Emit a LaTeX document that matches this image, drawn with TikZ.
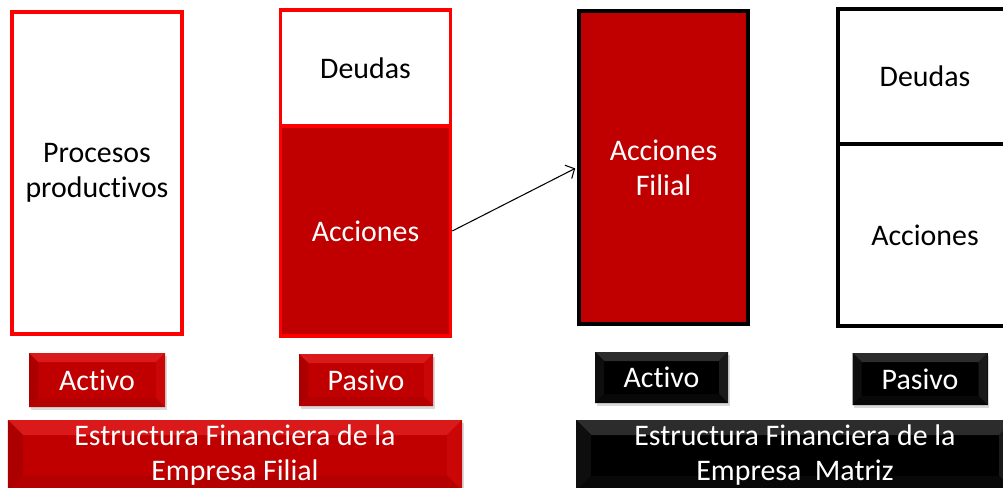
\documentclass[tikz,border=0pt]{standalone}
\usepackage{fontspec}
\setmainfont{Carlito}[Ligatures=NoCommon]
\usetikzlibrary{shadows,arrows.meta}
\definecolor{rojo}{HTML}{C00000}
\definecolor{rojoA}{HTML}{DA1A1A}
\definecolor{rojoI}{HTML}{AC0000}
\definecolor{rojoD}{HTML}{CA0606}
\definecolor{rojoB}{HTML}{B40000}
\definecolor{negA}{HTML}{2C2C2C}
\definecolor{negI}{HTML}{0E0E0E}
\definecolor{negD}{HTML}{1A1A1A}
\definecolor{negB}{HTML}{080808}
\tikzset{
	txt/.style={font=\fontsize{17}{19.9}\selectfont,align=center,inner sep=0pt},
	rbox/.style={txt,draw=red,line width=2pt},
	bbox/.style={txt,draw=black,line width=2.3pt},
	bevel/.style n args={5}{path picture={
		\fill[#2] (path picture bounding box.north west) -- (path picture bounding box.north east)
			-- ([shift={(-#1,-#1)}]path picture bounding box.north east) -- ([shift={(#1,-#1)}]path picture bounding box.north west) -- cycle;
		\fill[#3] (path picture bounding box.north west) -- (path picture bounding box.south west)
			-- ([shift={(#1,#1)}]path picture bounding box.south west) -- ([shift={(#1,-#1)}]path picture bounding box.north west) -- cycle;
		\fill[#4] (path picture bounding box.north east) -- (path picture bounding box.south east)
			-- ([shift={(-#1,#1)}]path picture bounding box.south east) -- ([shift={(-#1,-#1)}]path picture bounding box.north east) -- cycle;
		\fill[#5] (path picture bounding box.south west) -- (path picture bounding box.south east)
			-- ([shift={(-#1,#1)}]path picture bounding box.south east) -- ([shift={(#1,#1)}]path picture bounding box.south west) -- cycle;
	}},
	rbtn/.style={txt,text=white,fill=rojo,drop shadow={shadow xshift=0.03cm,shadow yshift=-0.05cm,opacity=0.3},bevel={#1}{rojoA}{rojoI}{rojoD}{rojoB}},
	bbtn/.style={txt,text=white,fill=black,drop shadow={shadow xshift=0.03cm,shadow yshift=-0.05cm,opacity=0.3},bevel={#1}{negA}{negI}{negD}{negB}}
}
\begin{document}
\begin{tikzpicture}[line width=0.6pt,>={Straight Barb[length=0.14cm,width=0.3cm]}]
	\useasboundingbox (0,0) rectangle (20.06,-9.76);
	\clip (0,0) rectangle (20.06,-9.76);
	% empresa filial
	\node[rbox,minimum width=3.4cm,minimum height=6.44cm] (proc) at (1.94,-3.46) {Procesos\\productivos};
	\node[rbox,minimum width=3.4cm,minimum height=2.32cm] (deu1) at (7.31,-1.36) {Deudas};
	\node[rbox,fill=rojo,text=white,minimum width=3.4cm,minimum height=4.2cm] (acc1) at (7.31,-4.62) {Acciones};
	% empresa matriz
	\node[bbox,fill=rojo,text=white,minimum width=3.38cm,minimum height=6.26cm] (fil) at (13.27,-3.35) {Acciones\\Filial};
	\node[bbox,minimum width=3.48cm,minimum height=2.7cm] (deu2) at (18.5,-1.53) {Deudas};
	\node[bbox,minimum width=3.48cm,minimum height=3.64cm] (acc2) at (18.5,-4.7) {Acciones};
	\draw[->,shorten >=0.04cm] (acc1.east) -- (fil.west);
	% etiquetas
	\node[rbtn=0.18,minimum width=2.72cm,minimum height=1.08cm] (act1) at (1.94,-7.6) {Activo};
	\node[rbtn=0.18,minimum width=2.68cm,minimum height=1.04cm] (pas1) at (7.32,-7.6) {Pasivo};
	\node[bbtn=0.18,minimum width=2.66cm,minimum height=1.02cm] (act2) at (13.23,-7.55) {Activo};
	\node[bbtn=0.18,minimum width=2.7cm,minimum height=1.04cm] (pas2) at (18.4,-7.58) {Pasivo};
	\node[rbtn=0.3,minimum width=9.08cm,minimum height=1.42cm] (est1) at (4.7,-9.11) {Estructura Financiera de la\\Empresa Filial};
	\node[bbtn=0.3,minimum width=8.76cm,minimum height=1.42cm] (est2) at (15.9,-9.11) {Estructura Financiera de la\\Empresa\ \ Matriz};
\end{tikzpicture}
\end{document}
